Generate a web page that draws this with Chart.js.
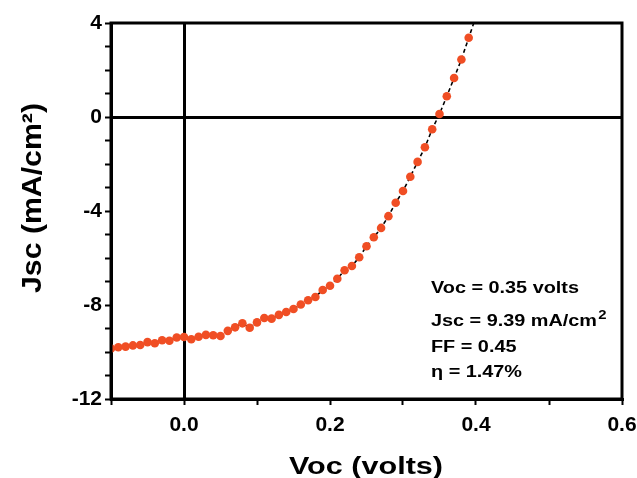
<!DOCTYPE html>
<html>
<head>
<meta charset="utf-8">
<script src="https://cdn.jsdelivr.net/npm/chart.js@4.4.1/dist/chart.umd.min.js"></script>
<style>
  html, body { margin: 0; padding: 0; background: #fff; }
  #wrap { width: 637px; height: 478px; }
</style>
</head>
<body>
<div id="wrap"><canvas id="ivChart"></canvas></div>
<script>
// J-V curve (volts, mA/cm2)
const voltage = [
  -0.10, -0.09, -0.08, -0.07, -0.06, -0.05, -0.04, -0.03, -0.02, -0.01,
   0.00,  0.01,  0.02,  0.03,  0.04,  0.05,  0.06,  0.07,  0.08,  0.09,
   0.10,  0.11,  0.12,  0.13,  0.14,  0.15,  0.16,  0.17,  0.18,  0.19,
   0.20,  0.21,  0.22,  0.23,  0.24,  0.25,  0.26,  0.27,  0.28,  0.29,
   0.30,  0.31,  0.32,  0.33,  0.34,  0.35,  0.36,  0.37,  0.38,  0.39
];
const current = [
  -9.85, -9.80, -9.77, -9.72, -9.70, -9.58, -9.63, -9.50, -9.52, -9.38,
  -9.36, -9.46, -9.35, -9.27, -9.29, -9.32, -9.10, -8.95, -8.78, -8.97,
  -8.74, -8.55, -8.58, -8.42, -8.30, -8.17, -7.98, -7.80, -7.66, -7.36,
  -7.18, -6.88, -6.52, -6.34, -5.97, -5.50, -5.12, -4.72, -4.22, -3.65,
  -3.15, -2.54, -1.91, -1.29, -0.52,  0.13,  0.88,  1.66,  2.45,  3.37
];
// the dashed guide line runs on past the last point to the top of the frame
const fitEndV = [0.397];
const fitEndJ = [4.0];

const xTickLabels = ['0.0', '0.2', '0.4', '0.6'];
const yTickLabels = ['-12', '-8', '-4', '0', '4'];

const notes = ['Voc = 0.35 volts', 'Jsc = 9.39 mA/cm', 'FF = 0.45', '\u03B7 = 1.47%'];

const points = voltage.map((v, i) => ({ x: v, y: current[i] }));
const fitLine = voltage.concat(fitEndV).map((v, i) => ({ x: v, y: current.concat(fitEndJ)[i] }));

const FONT = '"Liberation Sans", Arial, sans-serif';

function zeroColor(ctx) {
  return Math.abs(ctx.tick.value) < 1e-9 ? '#000' : 'rgba(0,0,0,0)';
}

// frame, axis titles and the result box
const decor = {
  id: 'decor',
  afterDatasetsDraw(chart) {
    const ctx = chart.ctx;
    const a = chart.chartArea;
    ctx.save();
    ctx.strokeStyle = '#000';
    ctx.lineWidth = 3;
    ctx.strokeRect(a.left, a.top, a.right - a.left, a.bottom - a.top);

    ctx.fillStyle = '#000';
    // x title
    ctx.font = 'bold 23px ' + FONT;
    ctx.textAlign = 'center';
    ctx.textBaseline = 'alphabetic';
    let w = ctx.measureText('Voc (volts)').width;
    ctx.save();
    ctx.translate(366, 474);
    ctx.scale(154 / w, 1);
    ctx.fillText('Voc (volts)', 0, 0);
    ctx.restore();

    // y title
    ctx.font = 'bold 28px ' + FONT;
    w = ctx.measureText('Jsc (mA/cm\u00B2)').width;
    ctx.save();
    ctx.translate(41, 198);
    ctx.rotate(-Math.PI / 2);
    ctx.scale(190 / w, 1);
    ctx.fillText('Jsc (mA/cm\u00B2)', 0, 0);
    ctx.restore();

    // results
    ctx.textAlign = 'left';
    ctx.font = 'bold 16px ' + FONT;
    const baselines = [293, 326, 352, 377];
    notes.forEach((t, i) => {
      ctx.save();
      ctx.translate(431, baselines[i]);
      ctx.scale(1.24, 1);
      ctx.fillText(t, 0, 0);
      if (i === 1) {
        const tw = ctx.measureText(t).width;
        ctx.font = 'bold 12px ' + FONT;
        ctx.fillText('2', tw + 1, -7);
      }
      ctx.restore();
    });
    ctx.restore();
  }
};

new Chart(document.getElementById('ivChart'), {
  type: 'scatter',
  data: {
    datasets: [
      {
        label: 'J-V',
        data: points,
        showLine: false,
        pointRadius: 4.3,
        pointHoverRadius: 4.3,
        pointBackgroundColor: 'rgb(240, 78, 36)',
        pointBorderColor: 'rgb(240, 78, 36)',
        pointBorderWidth: 0,
        order: 1
      },
      {
        label: 'fit',
        data: fitLine,
        showLine: true,
        pointRadius: 0,
        borderColor: '#000',
        borderWidth: 1.6,
        borderDash: [4, 3],
        order: 2
      }
    ]
  },
  options: {
    responsive: true,
    maintainAspectRatio: false,
    animation: false,
    layout: { padding: { top: 23, right: 15, bottom: 0, left: 0 } },
    plugins: {
      legend: { display: false },
      tooltip: { enabled: false }
    },
    scales: {
      x: {
        type: 'linear',
        min: -0.1,
        max: 0.6,
        afterFit(scale) {
          scale.height = 79;
          scale.paddingLeft = 0; scale.paddingRight = 0;
          scale.paddingTop = 0; scale.paddingBottom = 0;
        },
        border: { display: true, color: '#000', width: 3 },
        grid: {
          drawOnChartArea: true,
          color: zeroColor,
          lineWidth: 3,
          tickColor: '#000',
          tickWidth: 2,
          tickLength: 6
        },
        ticks: {
          stepSize: 0.1,
          autoSkip: false,
          maxRotation: 0,
          padding: 8,
          color: '#000',
          font: { family: FONT, size: 21, weight: 'bold' },
          callback(v) {
            const k = Math.round(v * 10);
            if (k % 2 !== 0) return '';
            return xTickLabels[k / 2] || '';
          }
        }
      },
      y: {
        type: 'linear',
        min: -12,
        max: 4,
        afterFit(scale) {
          scale.width = 111;
          scale.paddingLeft = 0; scale.paddingRight = 0;
          scale.paddingTop = 0; scale.paddingBottom = 0;
        },
        border: { display: true, color: '#000', width: 3 },
        grid: {
          drawOnChartArea: true,
          color: zeroColor,
          lineWidth: 3,
          tickColor: '#000',
          tickWidth: 2,
          tickLength: 6
        },
        ticks: {
          stepSize: 1,
          autoSkip: false,
          padding: 3,
          color: '#000',
          font: { family: FONT, size: 21, weight: 'bold' },
          callback(v) {
            const k = Math.round(v);
            if (k % 4 !== 0) return '';
            return yTickLabels[(k + 12) / 4];
          }
        }
      }
    }
  },
  plugins: [decor]
});
</script>
</body>
</html>
